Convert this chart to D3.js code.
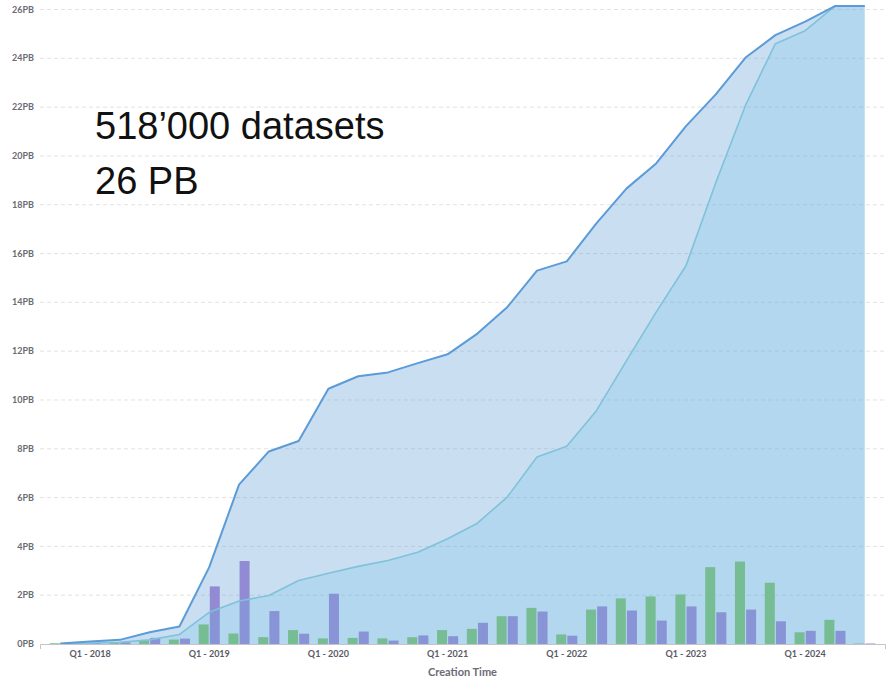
<!DOCTYPE html>
<html>
<head>
<meta charset="utf-8">
<script src="https://cdn.jsdelivr.net/npm/d3@7"></script>
<style>
  html, body { margin: 0; padding: 0; background: #ffffff; }
  svg { display: block; }
</style>
</head>
<body>
<svg id="chart" width="889" height="680"></svg>
<script>
const quarters = [
  "Q4 - 2017",
  "Q1 - 2018", "Q2 - 2018", "Q3 - 2018", "Q4 - 2018",
  "Q1 - 2019", "Q2 - 2019", "Q3 - 2019", "Q4 - 2019",
  "Q1 - 2020", "Q2 - 2020", "Q3 - 2020", "Q4 - 2020",
  "Q1 - 2021", "Q2 - 2021", "Q3 - 2021", "Q4 - 2021",
  "Q1 - 2022", "Q2 - 2022", "Q3 - 2022", "Q4 - 2022",
  "Q1 - 2023", "Q2 - 2023", "Q3 - 2023", "Q4 - 2023",
  "Q1 - 2024", "Q2 - 2024", "Q3 - 2024"
];
// cumulative volume (PB), upper curve
const cumulativeUpper = [
  0.02, 0.10, 0.17, 0.48, 0.72,
  3.15, 6.53, 7.89, 8.32,
  10.46, 10.97, 11.13, 11.51,
  11.87, 12.72, 13.80, 15.30,
  15.68, 17.25, 18.66, 19.69,
  21.22, 22.52, 24.03, 24.95,
  25.50, 26.14, 26.14
];
// cumulative volume (PB), lower curve
const cumulativeLower = [
  0.00, 0.03, 0.07, 0.17, 0.39,
  1.30, 1.76, 1.99, 2.60,
  2.90, 3.18, 3.42, 3.76,
  4.31, 4.95, 6.02, 7.66,
  8.10, 9.57, 11.60, 13.60,
  15.50, 18.90, 22.08, 24.60,
  25.13, 26.14, 26.14
];
// quarterly additions (PB)
const quarterlyGreen = [
  0.03, 0.03, 0.05, 0.14, 0.18,
  0.80, 0.43, 0.28, 0.57,
  0.23, 0.25, 0.23, 0.28,
  0.57, 0.62, 1.14, 1.48,
  0.39, 1.41, 1.87, 1.95,
  2.03, 3.15, 3.38, 2.51,
  0.48, 0.99, 0.02
];
const quarterlyPurple = [
  0.02, 0.05, 0.07, 0.25, 0.22,
  2.36, 3.40, 1.35, 0.42,
  2.06, 0.51, 0.14, 0.35,
  0.32, 0.87, 1.14, 1.33,
  0.34, 1.54, 1.37, 0.96,
  1.54, 1.30, 1.41, 0.93,
  0.54, 0.54, 0.02
];
const yTicks = [0, 2, 4, 6, 8, 10, 12, 14, 16, 18, 20, 22, 24, 26];
const xTickLabels = ["Q1 - 2018", "Q1 - 2019", "Q1 - 2020", "Q1 - 2021", "Q1 - 2022", "Q1 - 2023", "Q1 - 2024"];
const headline = ["518\u2019000 datasets", "26 PB"];
const xTitle = "Creation Time";

(function () {
const svg = d3.select("#chart");
const mLeft = 40, mRight = 885, mTop = 9.5, mBottom = 644;

const x = d3.scaleBand().domain(quarters).range([mLeft, mRight]).paddingInner(0).paddingOuter(0.18);
const xSub = d3.scaleBand().domain(["green", "purple"]).range([0, x.bandwidth()]).paddingInner(0.1).paddingOuter(0.39);
const y = d3.scaleLinear().domain([0, 26]).range([mBottom, mTop]);
const cx = q => x(q) + x.bandwidth() / 2;

// grid
svg.append("g").selectAll("line").data(yTicks.filter(d => d > 0)).join("line")
  .attr("x1", mLeft).attr("x2", mRight + 2)
  .attr("y1", d => y(d)).attr("y2", d => y(d))
  .attr("stroke", "#e3e3e3").attr("stroke-width", 1).attr("stroke-dasharray", "4,3");

// y labels
svg.append("g").selectAll("text").data(yTicks).join("text")
  .attr("x", 34).attr("y", d => y(d)).attr("dy", "0.35em")
  .attr("text-anchor", "end")
  .attr("font-family", "Lato, 'Open Sans', sans-serif").attr("font-weight", 700)
  .attr("font-size", 9).attr("fill", "#6b6b75")
  .text(d => d + "PB");

const upperData = quarters.map((q, i) => ({q, v: cumulativeUpper[i]}));
const lowerData = quarters.map((q, i) => ({q, v: cumulativeLower[i]}));

const area = d3.area().x(d => cx(d.q)).y0(y(0)).y1(d => y(d.v));
const line = d3.line().x(d => cx(d.q)).y(d => y(d.v));

// upper area
svg.append("path").datum(upperData).attr("d", area)
  .attr("fill", "rgb(91,155,213)").attr("fill-opacity", 0.33);

// bars
const barData = [];
quarters.forEach((q, i) => {
  barData.push({q, key: "green", v: quarterlyGreen[i]});
  barData.push({q, key: "purple", v: quarterlyPurple[i]});
});
svg.append("g").selectAll("rect").data(barData).join("rect")
  .attr("x", d => x(d.q) + xSub(d.key))
  .attr("width", xSub.bandwidth())
  .attr("y", d => y(d.v))
  .attr("height", d => y(0) - y(d.v))
  .attr("fill", d => d.key === "green" ? "#7dbd7f" : "#928ad2");

// lower area over bars
svg.append("path").datum(lowerData).attr("d", area)
  .attr("fill", "rgb(100,190,225)").attr("fill-opacity", 0.21);

// lines
svg.append("path").datum(lowerData).attr("d", line)
  .attr("fill", "none").attr("stroke", "#7fc2da").attr("stroke-width", 1.6).attr("stroke-linejoin", "round");
svg.append("path").datum(upperData).attr("d", line)
  .attr("fill", "none").attr("stroke", "#5b9bd8").attr("stroke-width", 2).attr("stroke-linejoin", "round");

// x axis
const xAxis = d3.axisBottom(x)
  .tickValues(xTickLabels)
  .tickSizeInner(0).tickSizeOuter(5).tickPadding(7);
const gx = svg.append("g").attr("transform", `translate(0,${mBottom})`).call(xAxis);
gx.select(".domain").attr("stroke", "#c4c4c8");
gx.selectAll(".tick text")
  .attr("font-family", "Lato, 'Open Sans', sans-serif").attr("font-weight", 700)
  .attr("font-size", 9).attr("fill", "#5a5a66");

// axis title
svg.append("text")
  .attr("x", (mLeft + mRight) / 2).attr("y", 676)
  .attr("text-anchor", "middle")
  .attr("font-family", "Lato, 'Open Sans', sans-serif").attr("font-weight", 700)
  .attr("font-size", 11).attr("fill", "#6b6b75")
  .text(xTitle);

// headline text
svg.append("g").selectAll("text").data(headline).join("text")
  .attr("x", 95).attr("y", (d, i) => 139 + i * 55)
  .attr("font-family", "'Liberation Sans', Arial, sans-serif")
  .attr("font-size", 38).attr("fill", "#111")
  .text(d => d);
})();
</script>
</body>
</html>
